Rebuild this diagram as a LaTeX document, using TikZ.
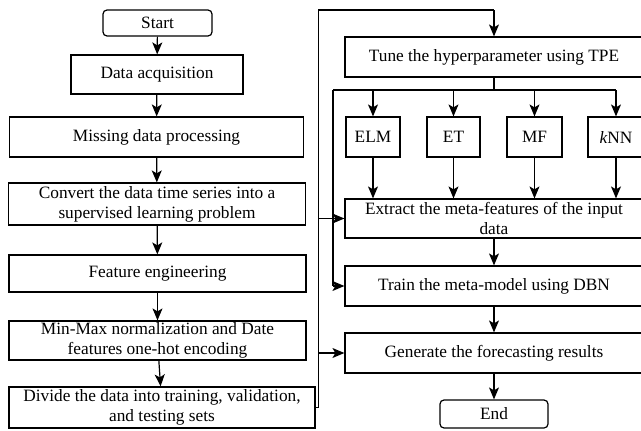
\documentclass[tikz,border=0pt]{standalone}
\usepackage{fontspec}
\setmainfont{Liberation Serif}
\usetikzlibrary{arrows.meta}
\begin{document}
\begin{tikzpicture}[x=1pt,y=-1pt,
  txt/.style={font=\fontsize{17.3pt}{20pt}\selectfont, align=center, inner sep=0pt},
  box/.style={txt, draw, line width=1.2pt, rectangle},
  term/.style={txt, draw, line width=1.2pt, rounded corners=4pt},
  conn/.style={line width=1.2pt, -{Stealth[length=12pt,width=10pt,inset=3pt]}},
  plain/.style={line width=1.2pt}]
\useasboundingbox (0,0) rectangle (641,431);
% left column
\node[term, minimum width=109pt, minimum height=26pt] (start) at (157.5,23) {Start};
\node[box, minimum width=172pt, minimum height=39pt] (acq) at (157,74.5) {Data acquisition};
\node[box, minimum width=294pt, minimum height=40pt] (miss) at (156.5,137) {Missing data processing};
\node[box, minimum width=297pt, minimum height=42pt] (conv) at (157,204) {Convert the data time series into a\\supervised learning problem};
\node[box, minimum width=297pt, minimum height=37pt] (feat) at (157.5,273.5) {Feature engineering};
\node[box, minimum width=297pt, minimum height=39pt] (norm) at (157.5,340.5) {Min-Max normalization and Date\\features one-hot encoding};
\node[box, minimum width=306pt, minimum height=41pt] (div) at (162,407.5) {Divide the data into training, validation,\\and testing sets};
% right column
\node[box, minimum width=298pt, minimum height=40pt] (tpe) at (494,57) {Tune the hyperparameter using TPE};
\node[box, minimum width=54pt, minimum height=40pt] (elm) at (373,137) {ELM};
\node[box, minimum width=53pt, minimum height=40pt] (et) at (453.5,137) {ET};
\node[box, minimum width=55pt, minimum height=40pt] (mf) at (534.5,137) {MF};
\node[box, minimum width=56pt, minimum height=40pt] (knn) at (616,137) {\textit{k}NN};
\node[box, minimum width=298pt, minimum height=39pt] (ext) at (494,218.5) {Extract the meta-features of the input\\data};
\node[box, minimum width=298pt, minimum height=40pt] (train) at (494,286) {Train the meta-model using DBN};
\node[box, minimum width=298pt, minimum height=40pt] (gen) at (494,353) {Generate the forecasting results};
\node[term, minimum width=108pt, minimum height=28pt] (end) at (494,414) {End};
% left arrows
\draw[conn] (start) -- (acq);
\draw[conn] (acq) -- (miss);
\draw[conn] (miss) -- (conv);
\draw[conn] (conv) -- (feat);
\draw[conn] (feat) -- (norm);
\draw[conn] (norm) -- (div);
% outer loop
\coordinate (o1) at (318.5,407.5);
\coordinate (o2) at (318.5,10);
\coordinate (o3) at (494,10);
\draw[plain] (div.east) -- (o1) -- (o2) -- (o3);
\draw[conn] (o3) -- (tpe.north);
\coordinate (oe) at (318.5,218.5);
\coordinate (og) at (318.5,353);
\draw[conn] (oe) -- (ext.west);
\draw[conn] (og) -- (gen.west);
% TPE branches
\coordinate (b0) at (494,90);
\coordinate (bl) at (333,90);
\coordinate (br) at (616,90);
\draw[plain] (tpe.south) -- (b0);
\draw[plain] (bl) -- (br);
\draw[conn] (elm.north |- b0) -- (elm.north);
\draw[conn] (et.north |- b0) -- (et.north);
\draw[conn] (mf.north |- b0) -- (mf.north);
\draw[conn] (br) -- (knn.north);
\coordinate (bt) at (333,286);
\draw[plain] (bl) -- (bt);
\draw[conn] (bt) -- (train.west);
% models to extract
\draw[conn] (elm.south) -- (elm.south |- ext.north);
\draw[conn] (et.south) -- (et.south |- ext.north);
\draw[conn] (mf.south) -- (mf.south |- ext.north);
\draw[conn] (knn.south) -- (knn.south |- ext.north);
% right chain
\draw[conn] (ext) -- (train);
\draw[conn] (train) -- (gen);
\draw[conn] (gen) -- (end);
\end{tikzpicture}
\end{document}
